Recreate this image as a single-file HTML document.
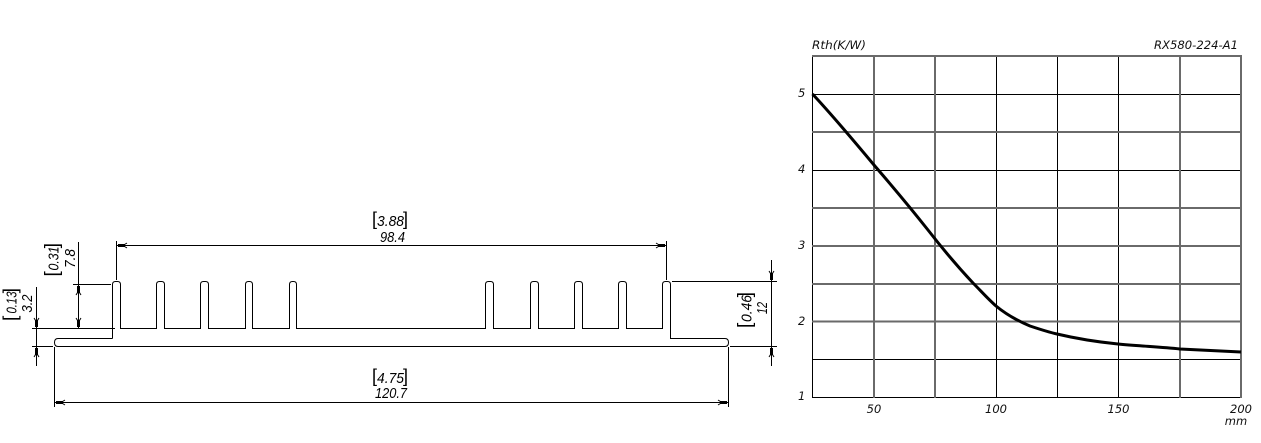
<!DOCTYPE html>
<html><head><meta charset="utf-8"><style>
html,body{margin:0;padding:0;background:#fff}
svg{display:block}
.d{font-family:"Liberation Sans",sans-serif;font-style:italic;font-size:14.5px;fill:#000}
.b{font-family:"Liberation Sans",sans-serif;font-size:18px;fill:#000}
.r{font-family:"Liberation Sans",sans-serif;font-size:19px;fill:#000}
.c{font-family:"DejaVu Sans",sans-serif;font-style:italic;font-size:11.5px;fill:#111}
</style></head><body>
<svg width="1261" height="443" viewBox="0 0 1261 443" xmlns="http://www.w3.org/2000/svg">
<defs><g id="a"><rect x="-1.5" y="-8" width="3" height="7" fill="#000"/><polyline points="-2.5,-10 0,-6 2.5,-10" fill="none" stroke="#000"/></g></defs>

<!-- profile -->
<g fill="none" stroke="#000" stroke-width="1">
<path d="M112.5 338.5V284.5Q112.5 281.5 115.5 281.5H117.5Q120.5 281.5 120.5 284.5V328.5H156.5V284.5Q156.5 281.5 159.5 281.5H161.5Q164.5 281.5 164.5 284.5V328.5H200.5V284.5Q200.5 281.5 203.5 281.5H205.5Q208.5 281.5 208.5 284.5V328.5H245.5V284.5Q245.5 281.5 248.5 281.5H249.5Q252.5 281.5 252.5 284.5V328.5H289.5V284.5Q289.5 281.5 292.5 281.5H293.5Q296.5 281.5 296.5 284.5V328.5H485.5V284.5Q485.5 281.5 488.5 281.5H490.5Q493.5 281.5 493.5 284.5V328.5H530.5V284.5Q530.5 281.5 533.5 281.5H535.5Q538.5 281.5 538.5 284.5V328.5H574.5V284.5Q574.5 281.5 577.5 281.5H579.5Q582.5 281.5 582.5 284.5V328.5H618.5V284.5Q618.5 281.5 621.5 281.5H623.5Q626.5 281.5 626.5 284.5V328.5H662.5V284.5Q662.5 281.5 665.5 281.5H667.5Q670.5 281.5 670.5 284.5V338.5H725Q728.5 338.5 728.5 342.5Q728.5 346.5 725 346.5H58Q54.5 346.5 54.5 342.5Q54.5 338.5 58 338.5H112.5"/>
<!-- dimension / extension lines -->
<path d="M32 328.5H115M32 346.5H53M73 284.5H111M672 281.5H777M730 346.5H777"/>
<path d="M36.5 287V366M78.5 242V328M771.5 260V366"/>
<path d="M116.5 241V280M666.5 241V280M116.5 245.5H666.5"/>
<path d="M54.5 347V407M728.5 347V407M54.5 402.5H728.5"/>
</g>
<use href="#a" transform="translate(36.5,328)"/>
<use href="#a" transform="translate(36.5,347) rotate(180)"/>
<use href="#a" transform="translate(78.5,285) rotate(180)"/>
<use href="#a" transform="translate(78.5,328)"/>
<use href="#a" transform="translate(771.5,281)"/>
<use href="#a" transform="translate(771.5,347) rotate(180)"/>
<use href="#a" transform="translate(117,245.5) rotate(90)"/>
<use href="#a" transform="translate(666,245.5) rotate(-90)"/>
<use href="#a" transform="translate(55,402.5) rotate(90)"/>
<use href="#a" transform="translate(728,402.5) rotate(-90)"/>

<!-- horizontal dimension text -->
<text class="b" x="372" y="225">[</text><text class="b" x="408" y="225" text-anchor="end">]</text>
<text class="d" x="377" y="226" textLength="27" lengthAdjust="spacingAndGlyphs">3.88</text>
<text class="d" x="380" y="242" textLength="25" lengthAdjust="spacingAndGlyphs">98.4</text>
<text class="b" x="372" y="382">[</text><text class="b" x="408" y="382" text-anchor="end">]</text>
<text class="d" x="377" y="383" textLength="27" lengthAdjust="spacingAndGlyphs">4.75</text>
<text class="d" x="375" y="398" textLength="32" lengthAdjust="spacingAndGlyphs">120.7</text>

<!-- vertical dimension text -->
<g transform="translate(58,276.5) rotate(-90)"><text class="r" x="0" y="0">[</text><text class="r" x="33.5" y="0" text-anchor="end">]</text></g>
<text class="d" transform="translate(58.5,270.5) rotate(-90)" textLength="24" lengthAdjust="spacingAndGlyphs">0.31</text>
<text class="d" transform="translate(75,268) rotate(-90)" textLength="19" lengthAdjust="spacingAndGlyphs">7.8</text>
<g transform="translate(16.5,321) rotate(-90)"><text class="r" x="0" y="0">[</text><text class="r" x="33" y="0" text-anchor="end">]</text></g>
<text class="d" transform="translate(16.5,313.5) rotate(-90)" textLength="22" lengthAdjust="spacingAndGlyphs">0.13</text>
<text class="d" transform="translate(32,312.5) rotate(-90)" textLength="18" lengthAdjust="spacingAndGlyphs">3.2</text>
<g transform="translate(751,328) rotate(-90)"><text class="r" x="0" y="0">[</text><text class="r" x="36" y="0" text-anchor="end">]</text></g>
<text class="d" transform="translate(751.5,322) rotate(-90)" textLength="27" lengthAdjust="spacingAndGlyphs">0.46</text>
<text class="d" transform="translate(767,314) rotate(-90)" textLength="12" lengthAdjust="spacingAndGlyphs">12</text>

<!-- chart grid -->
<g fill="none" stroke="#000" stroke-width="1">
<path d="M812.5 56V398M996.5 56V398M1057.5 56V398M1118.5 56V398"/>
<path d="M812 94.5H1241M812 170.5H1241M812 359.5H1241M812 397.5H1241"/>
</g>
<g fill="none" stroke="#6a6a6a" stroke-width="2">
<path d="M874 56V398M935 56V398M1180 56V398M1241 56V398"/>
<path d="M812 56H1242M812 132H1241M812 208H1241M812 246H1241M812 284H1241M812 321.5H1241"/>
</g>
<!-- curve -->
<path d="M812.5 94 C833 116 854 141 874 165 C893 187 913 211 928 230 C942 248 958 267 973 283 C981 291 988 299 996 306 C1007 315 1018 321 1030 326 C1039 329 1048 332 1057 334 C1078 339 1098 342 1118 344 C1139 346 1160 347 1180 349 C1201 350 1221 351 1241 352" fill="none" stroke="#000" stroke-width="3"/>

<!-- chart labels -->
<text class="c" x="812" y="49" textLength="54" lengthAdjust="spacingAndGlyphs">Rth(K/W)</text>
<text class="c" x="1154" y="49" textLength="84" lengthAdjust="spacingAndGlyphs">RX580-224-A1</text>
<text class="c" x="798" y="97">5</text>
<text class="c" x="798" y="173">4</text>
<text class="c" x="798" y="249">3</text>
<text class="c" x="798" y="325">2</text>
<text class="c" x="798" y="400">1</text>
<text class="c" x="874" y="413" text-anchor="middle">50</text>
<text class="c" x="996" y="413" text-anchor="middle">100</text>
<text class="c" x="1118.5" y="413" text-anchor="middle">150</text>
<text class="c" x="1241" y="413" text-anchor="middle">200</text>
<text class="c" x="1236" y="425" text-anchor="middle">mm</text>
</svg>
</body></html>
